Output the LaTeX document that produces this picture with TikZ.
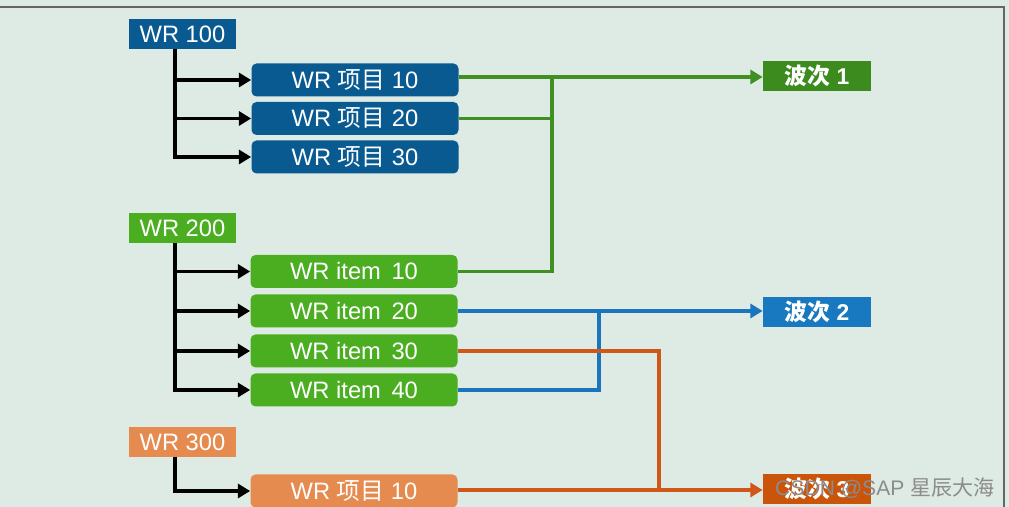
\documentclass[tikz,border=0pt]{standalone}
\usepackage{fontspec}
\setmainfont{Liberation Sans}
\newfontfamily\cjk{Noto Sans CJK SC}
\usetikzlibrary{arrows.meta}
\definecolor{bgc}{HTML}{DDEBE4}
\definecolor{wrblue}{HTML}{0A5A92}
\definecolor{wrgreen}{HTML}{4BAE21}
\definecolor{wrorange}{HTML}{E68B4F}
\definecolor{waveone}{HTML}{3B8B1E}
\definecolor{wavetwo}{HTML}{1878C0}
\definecolor{wavethree}{HTML}{C9540A}
\definecolor{lgreen}{HTML}{3F8F22}
\definecolor{lblue}{HTML}{1A74BE}
\definecolor{lorange}{HTML}{D0571A}
\begin{document}
\begin{tikzpicture}[
    hdr/.style={minimum width=2.14cm,minimum height=0.6cm,inner sep=0pt,text=white,
        font=\fontsize{13.5}{15}\selectfont},
    itm/.style={rounded corners=1mm,minimum width=4.14cm,minimum height=0.66cm,inner sep=0pt,
        text=white,font=\fontsize{13.5}{15}\selectfont},
    wave/.style={minimum width=2.16cm,minimum height=0.6cm,inner sep=0pt,text=white,
        font=\bfseries\fontsize{13}{15}\selectfont},
    bline/.style={line width=2pt,-{Triangle[length=7pt,width=8pt]}},
    cline/.style={line width=2pt}]
        %% Frame
        \useasboundingbox (0,0) rectangle (20.18,10.14);
        \fill[bgc] (0,0) rectangle (20.18,10.14);
        \draw[black!60,thick] (0,10.0) -- (20.08,10.0) -- (20.08,0);
        %% WR 100
        \node[hdr,fill=wrblue] (p1) at (3.65,9.46) {WR 100};
        \node[itm,fill=wrblue] (b1) at (7.1,8.54) {WR {\cjk 项目} 10};
        \node[itm,fill=wrblue] (b2) at (7.1,7.77) {WR {\cjk 项目} 20};
        \node[itm,fill=wrblue] (b3) at (7.1,7.0) {WR {\cjk 项目} 30};
        \coordinate (r1) at ([xshift=-1.5mm]p1.south);
        \draw[bline] (r1) |- (b1.west);
        \draw[bline] (r1) |- (b2.west);
        \draw[bline] (r1) |- (b3.west);
        %% WR 200
        \node[hdr,fill=wrgreen] (p2) at (3.65,5.58) {WR 200};
        \node[itm,fill=wrgreen] (g1) at (7.08,4.71) {WR item\, 10};
        \node[itm,fill=wrgreen] (g2) at (7.08,3.92) {WR item\, 20};
        \node[itm,fill=wrgreen] (g3) at (7.08,3.12) {WR item\, 30};
        \node[itm,fill=wrgreen] (g4) at (7.08,2.34) {WR item\, 40};
        \coordinate (r2) at ([xshift=-1.5mm]p2.south);
        \draw[bline] (r2) |- (g1.west);
        \draw[bline] (r2) |- (g2.west);
        \draw[bline] (r2) |- (g3.west);
        \draw[bline] (r2) |- (g4.west);
        %% WR 300
        \node[hdr,fill=wrorange] (p3) at (3.65,1.3) {WR 300};
        \node[itm,fill=wrorange] (o1) at (7.08,0.32) {WR {\cjk 项目} 10};
        \coordinate (r3) at ([xshift=-1.5mm]p3.south);
        \draw[bline] (r3) |- (o1.west);
        %% waves
        \node[wave,fill=waveone] (w1) at (16.34,8.62) {{\cjk 波次} 1};
        \node[wave,fill=wavetwo] (w2) at (16.34,3.9) {{\cjk 波次} 2};
        \node[wave,fill=wavethree] (w3) at (16.34,0.36) {{\cjk 波次} 3};
        %% wave 1
        \coordinate (j1) at (11.04,8.6);
        \draw[bline,lgreen] (b1.east |- j1) -- (w1.west |- j1);
        \draw[cline,lgreen] (b2.east) -| (j1);
        \draw[cline,lgreen] (g1.east) -| (j1);
        %% wave 2
        \coordinate (j2) at (11.98,3.92);
        \draw[bline,lblue] (g2.east) -- (w2.west |- g2.east);
        \draw[cline,lblue] (g4.east) -| (j2);
        %% wave 3
        \coordinate (j3) at (13.18,0.34);
        \draw[bline,lorange] (o1.east |- j3) -- (w3.west |- j3);
        \draw[cline,lorange] (g3.east) -| (j3);
        %% mark
        \node[anchor=east,inner sep=0pt,text=black!45,font=\fontsize{12}{14}\selectfont] (mk) at (19.9,0.38)
            {CSDN @SAP {\cjk 星辰大海}};
    \end{tikzpicture}
\end{document}
